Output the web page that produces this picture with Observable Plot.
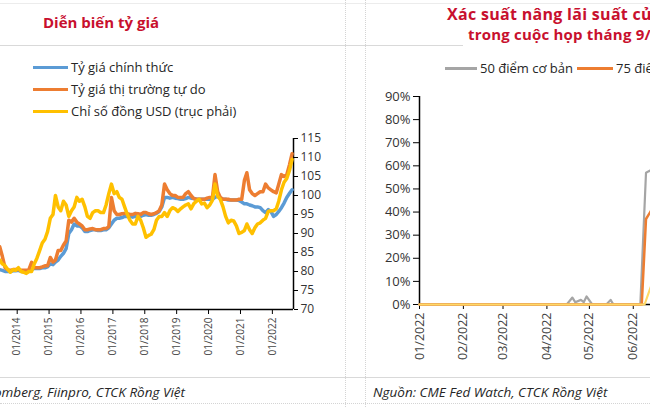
<!DOCTYPE html>
<html><head><meta charset="utf-8">
<script src="https://cdn.jsdelivr.net/npm/d3@7"></script>
<script src="https://cdn.jsdelivr.net/npm/@observablehq/plot@0.6"></script>
<style>
html,body{margin:0;padding:0;background:#fff;}
#root{position:relative;width:650px;height:407px;overflow:hidden;background:#fff;font-family:"Open Sans",sans-serif;}
.hline{position:absolute;left:0;width:650px;height:0;border-top:1px solid #d9d9d9;}
.vline{position:absolute;top:0;height:407px;width:0;border-left:1px dotted #d4d4d4;}
.title{position:absolute;color:#c8102e;font-weight:700;font-size:15px;line-height:18px;white-space:nowrap;}
.leg{position:absolute;font-size:13px;line-height:20px;color:#262626;white-space:nowrap;display:flex;align-items:center;width:max-content;}
.leg i{display:inline-block;height:3px;flex:none;}
.src{position:absolute;font-style:italic;font-size:13.5px;line-height:18px;color:#262626;white-space:nowrap;}
.plot{position:absolute;}
.plot svg{max-width:none !important;}
</style></head>
<body><div id="root">
<div class="hline" style="top:3px;border-color:#ececec"></div>
<div class="hline" style="top:45px"></div>
<div class="hline" style="top:377px"></div>
<div class="hline" style="top:403px;border-top:1px dotted #d4d4d4"></div>
<div class="vline" style="left:345px"></div>
<div class="vline" style="left:365px"></div>
<div id="left" class="plot" style="left:-2px;top:128px;width:332px"></div>
<div id="right" class="plot" style="left:369px;top:86px;width:414px"></div>
<div style="position:absolute;left:463px;top:24px;width:200px;height:24px;background:#fff"></div>
<div class="title" style="left:43px;top:13px">Diễn biến tỷ giá</div>
<div class="title" style="left:447px;top:5px;font-size:16px;letter-spacing:0.3px">Xác suất nâng lãi suất của Fed</div>
<div class="title" style="left:468px;top:25px;letter-spacing:0.2px">trong cuộc họp tháng 9/2022</div>
<div id="legL"></div>
<div id="legR"></div>
<div class="src" style="right:465px;top:383px">Nguồn: Bloomberg, Fiinpro, CTCK Rồng Việt</div>
<div class="src" style="left:373px;top:383px">Nguồn: CME Fed Watch, CTCK Rồng Việt</div>
</div>
<script>
// ---------- Left chart: monthly values (2013-06 .. 2022-08), read on the right-axis scale ----------
const leftSeriesNames = ["Tỷ giá chính thức", "Tỷ giá thị trường tự do", "Chỉ số đồng USD (trục phải)"];
const leftColors = ["#5b9bd5", "#ed7d31", "#ffc000"];
const leftXTickLabels = ["01/2014","01/2015","01/2016","01/2017","01/2018","01/2019","01/2020","01/2021","01/2022"];
const leftYTicks = [70,75,80,85,90,95,100,105,110,115];
const officialRate = [
  80.5, 80.3, 80, 80, 80, 80.2, 80.2,
  80.3, 80, 80, 80, 80.2, 80.5, 80.8, 80.8, 80.8, 81, 81, 81.2,
  82, 81.8, 82.5, 83, 84, 84.8, 86, 90, 91, 92.5, 92, 92,
  91.5, 90.5, 90.5, 90.8, 91, 91, 90.8, 90.8, 91, 91, 91.5, 92.5,
  93.5, 94, 94, 94.2, 94.5, 94.5, 94.5, 94.3, 94.5, 94.5, 94.5, 94.8,
  95, 94.8, 94.8, 95, 95.3, 95.8, 97, 99.5, 99.5, 99.3, 99.5, 99.3,
  99.2, 99, 99, 99.2, 99.5, 99.3, 99.2, 99, 99, 99, 99, 99,
  99, 99, 99.5, 99.8, 99.3, 99, 99, 98.8, 98.8, 98.8, 98.8, 98.7,
  98.3, 97.8, 97.8, 97.5, 97.3, 97, 97, 96.8, 96, 95.5, 96.3, 95.8,
  94.5, 95, 95.8, 96.8, 98, 99.5, 100.5, 101.5
];
const freeMarketRate = [
  86.5, 84, 81, 80.5, 80.3, 80.5, 80.5,
  80.5, 80.3, 80.3, 80.3, 80.5, 82.4, 81, 81, 81, 81.2, 81.5, 81.5,
  83.7, 82.5, 83, 85.5, 85.5, 87, 88, 93.5, 93, 94, 93, 92.5,
  92, 91, 91, 91.2, 91.3, 91, 91, 91, 91.3, 91.3, 91.8, 99.5,
  96, 95, 95, 95.2, 95.3, 95.2, 95, 95, 95.3, 95.2, 95, 95.5,
  95.5, 95.2, 95, 95.2, 95.5, 96, 97.5, 103, 101.5, 100.5, 100, 100,
  99.5, 99.5, 99.5, 100.5, 101, 100, 99.2, 99, 99, 99, 99, 99.3,
  99.5, 99.5, 105.5, 101, 99.5, 99, 99, 99, 98.8, 98.8, 98.8, 99,
  99, 104, 106, 101.5, 100.5, 100, 100.5, 101, 101, 103, 102, 101.5,
  101, 100.7, 103, 105.5, 105, 105.5, 108, 111
];
const dollarIndex = [
  83, 82, 81.5, 80.5, 79.8, 80.5, 80.3,
  81, 80, 79.8, 79.5, 80, 80, 82, 83.5, 85.5, 87.5, 88.5, 90.5,
  94, 95, 100, 97, 96, 98.5, 97.5, 94.5, 96, 97, 99.5, 98.5,
  99, 97, 94.5, 94, 95.5, 96, 96, 95.5, 95.5, 97.5, 100.5, 103,
  100.5, 101, 99.5, 99, 97, 95, 93.5, 92.5, 92.5, 94.5, 93.5, 91.5,
  89, 89.5, 89.8, 91, 93.5, 94.5, 94.5, 95.5, 94.5, 96, 96.8, 96.5,
  95.8, 96.5, 97, 97.5, 97.8, 96.5, 97.8, 98.5, 99, 97.8, 98, 96.8,
  97.5, 98.8, 103, 99.8, 99, 97, 94.5, 92.8, 93.5, 93.3, 92, 90,
  90.3, 90.8, 92.5, 91, 90, 91.5, 92.5, 92.8, 93.5, 94, 95.8, 96,
  96, 96.5, 98.5, 101.5, 103.5, 104.5, 106.5, 109.5
];

// ---------- Right chart: Fed Watch probabilities (%) ----------
const rightSeriesNames = ["50 điểm cơ bản", "75 điểm cơ bản", "100 điểm cơ bản"];
const rightColors = ["#a5a5a5", "#ed7d31", "#ffd966"];
const rightXTickLabels = ["01/2022","02/2022","03/2022","04/2022","05/2022","06/2022","07/2022","08/2022"];
const rightYTicks = [0,10,20,30,40,50,60,70,80,90];
const prob50Dates = ["2022-01-01","2022-04-15","2022-04-19","2022-04-21","2022-04-25","2022-04-27","2022-04-29","2022-05-03","2022-05-13","2022-05-16","2022-05-18","2022-06-06","2022-06-10","2022-06-13","2022-06-15","2022-06-17"];
const prob50Values = [0,0,3,1,2,1,3.5,0,0,2,0,0,57,58,55,54];
const prob75Dates = ["2022-01-01","2022-06-07","2022-06-10","2022-06-13","2022-06-15","2022-06-17"];
const prob75Values = [0,0,37,40,42,43];
const prob100Dates = ["2022-01-01","2022-06-09","2022-06-13","2022-06-15","2022-06-17"];
const prob100Values = [0,0,7,10,12];

// ---------- build ----------
const monthStarts = d3.utcMonth.range(new Date(Date.UTC(2013,5,1)), new Date(Date.UTC(2022,8,1)));
const monthDates = monthStarts.map(d => d3.utcDay.offset(d, 14));
const leftRows = [officialRate, freeMarketRate, dollarIndex].map(arr => arr.map((v,i) => ({date: monthDates[i], value: v})));
const parseMY = d3.utcParse("%m/%Y");
const lxStart = new Date(Date.UTC(2013,5,1)), lxEnd = new Date(Date.UTC(2022,7,31));
const font = "Open Sans";

const leftPlot = Plot.plot({
  width: 332, height: 236,
  marginLeft: 0, marginRight: 37, marginTop: 10, marginBottom: 55,
  style: {fontFamily: font, fontSize: "12px", background: "transparent", overflow: "visible", color: "#333"},
  x: {type: "utc", domain: [lxStart, lxEnd]},
  y: {domain: [70, 115]},
  marks: [
    Plot.axisX({ticks: leftXTickLabels.map(parseMY), tickFormat: d3.utcFormat("%m/%Y"), tickRotate: -90, tickSize: 5, tickPadding: 3, fontSize: 10, label: null, stroke: "#000", fill: "#444"}),
    Plot.axisY({anchor: "right", ticks: leftYTicks, tickSize: 4, tickPadding: 3, label: null, stroke: "#000", fill: "#333", fontSize: 12}),
    Plot.ruleY([70], {stroke: "#000", strokeWidth: 1.5}),
    Plot.ruleX([lxEnd], {stroke: "#000", strokeWidth: 1.5}),
    ...leftRows.map((rows, k) => Plot.line(rows, {x: "date", y: "value", stroke: leftColors[k], strokeWidth: 3.5}))
  ]
});
document.getElementById("left").appendChild(leftPlot);

const parseD = d3.utcParse("%Y-%m-%d");
const rightRows = [[prob50Dates, prob50Values], [prob75Dates, prob75Values], [prob100Dates, prob100Values]]
  .map(([ds, vs]) => ds.map((d,i) => ({date: parseD(d), value: vs[i]})));
const rxStart = new Date(Date.UTC(2022,0,1)), rxEnd = new Date(Date.UTC(2022,8,1));
const rightPlot = Plot.plot({
  width: 414, height: 280,
  marginLeft: 50, marginRight: 20, marginTop: 10, marginBottom: 62,
  style: {fontFamily: font, fontSize: "13px", background: "transparent", overflow: "visible", color: "#333"},
  x: {type: "utc", domain: [rxStart, rxEnd]},
  y: {domain: [0, 90]},
  marks: [
    Plot.axisX({ticks: rightXTickLabels.map(parseMY), tickFormat: d3.utcFormat("%m/%Y"), tickRotate: -90, tickSize: 5, tickPadding: 3, fontSize: 12.5, label: null, stroke: "#000", fill: "#444"}),
    Plot.axisY({ticks: rightYTicks, tickFormat: d => d + "%", tickSize: 6, tickPadding: 3, label: null, stroke: "#000", fill: "#333", fontSize: 13}),
    Plot.ruleX([rxStart], {stroke: "#000", strokeWidth: 1.5}),
    Plot.ruleY([0], {stroke: "#000", strokeWidth: 1.5}),
    ...rightRows.map((rows, k) => Plot.line(rows, {x: "date", y: "value", stroke: rightColors[k], strokeWidth: k === 1 ? 2.5 : 2.2}))
  ]
});
document.getElementById("right").appendChild(rightPlot);

// legends
const legL = document.getElementById("legL");
leftSeriesNames.forEach((n, k) => {
  const d = document.createElement("div");
  d.className = "leg";
  d.style.left = "33px"; d.style.top = (57 + k*22) + "px";
  d.innerHTML = `<i style="width:35px;background:${leftColors[k]};margin-right:3px"></i>${n}`;
  legL.appendChild(d);
});
const legRLefts = [445, 577, 711];
const legRWidths = [32, 36, 36];
const legR = document.getElementById("legR");
rightSeriesNames.forEach((n, k) => {
  const d = document.createElement("div");
  d.className = "leg";
  d.style.left = legRLefts[k] + "px"; d.style.top = "58px";
  d.innerHTML = `<i style="width:${legRWidths[k]}px;background:${rightColors[k]};margin-right:3px"></i>${n}`;
  legR.appendChild(d);
});
</script>
</body></html>
